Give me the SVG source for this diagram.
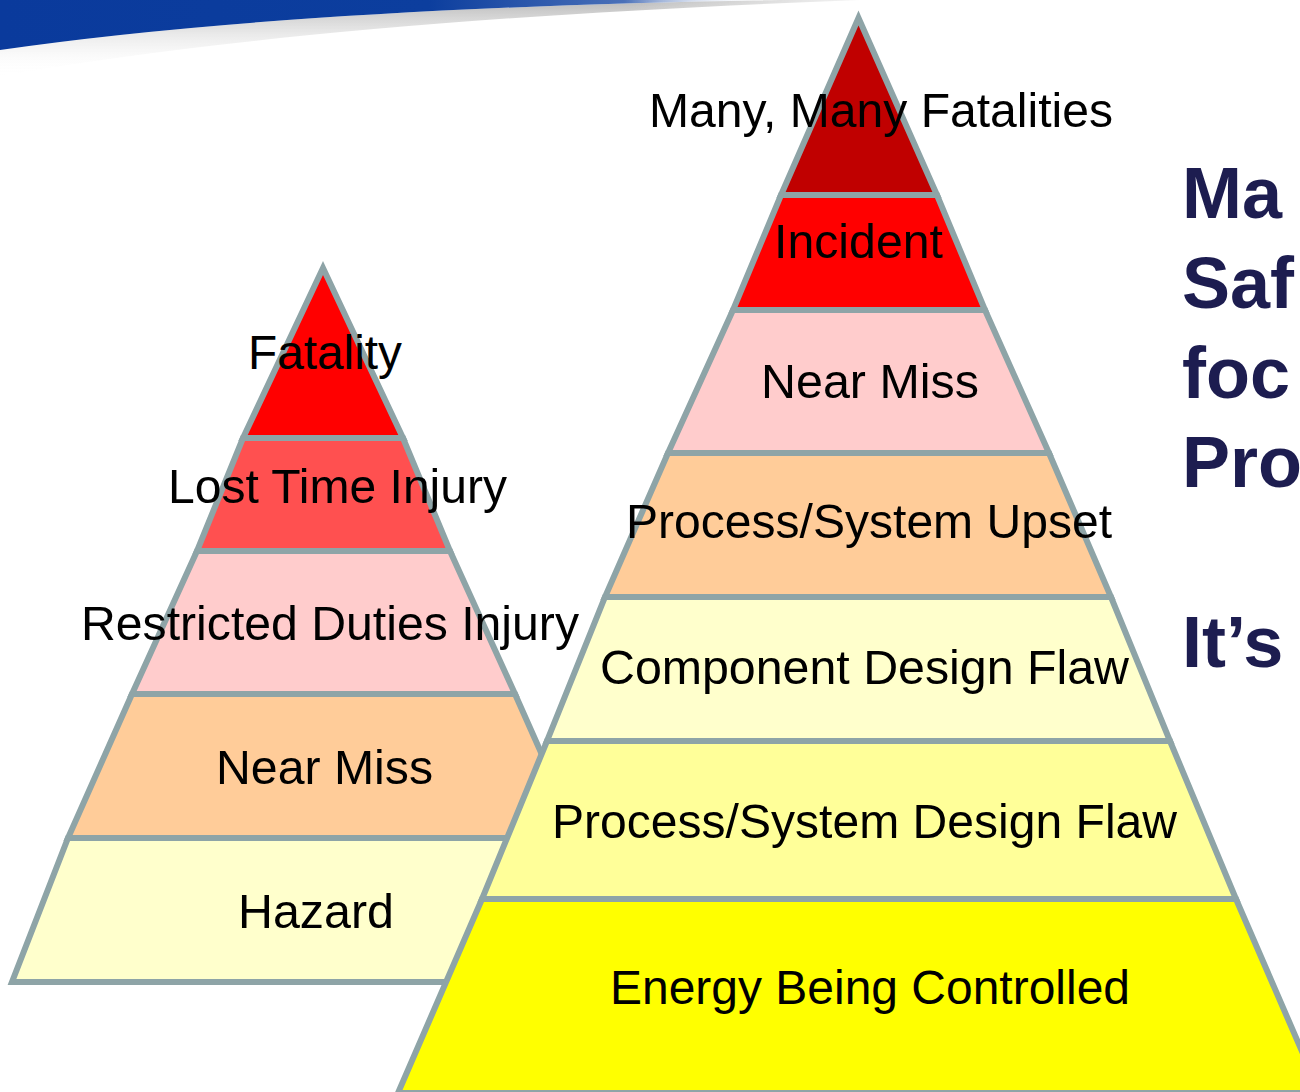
<svg xmlns="http://www.w3.org/2000/svg" width="1300" height="1092" viewBox="0 0 1300 1092">
<defs>
<linearGradient id="blueG" x1="0" y1="0" x2="1" y2="0">
<stop offset="0" stop-color="#0a3a9c"/>
<stop offset="0.55" stop-color="#0c3e9e"/>
<stop offset="0.8" stop-color="#4a70b8"/>
<stop offset="1" stop-color="#ffffff" stop-opacity="0"/>
</linearGradient>
<linearGradient id="shadowG" x1="0" y1="0" x2="0" y2="1">
<stop offset="0" stop-color="#9a9a9a" stop-opacity="0.7"/>
<stop offset="1" stop-color="#ffffff" stop-opacity="0"/>
</linearGradient>
<linearGradient id="shadowFade" x1="0" y1="0" x2="1" y2="0">
<stop offset="0" stop-color="#ffffff" stop-opacity="1"/>
<stop offset="0.7" stop-color="#ffffff" stop-opacity="1"/>
<stop offset="1" stop-color="#ffffff" stop-opacity="0"/>
</linearGradient>
<mask id="fadeMask"><rect x="0" y="0" width="900" height="100" fill="url(#shadowFade)"/></mask>
<style>
.band{stroke:#8ea4a7;stroke-width:6;stroke-linejoin:miter}
.lbl{font-family:"Liberation Sans",Arial,sans-serif;font-size:48px;fill:#000}
.side{font-family:"Liberation Sans",Arial,sans-serif;font-size:72px;font-weight:bold;fill:#1d1d50}
</style>
</defs>
<rect width="1300" height="1092" fill="#ffffff"/>
<g id="header" mask="url(#fadeMask)">
<path d="M0,50 Q290,8 780,0 L860,0 Q320,20 0,76 Z" fill="url(#shadowG)"/>
<path d="M0,0 L780,0 Q290,8 0,50 Z" fill="url(#blueG)"/>
</g>
<g id="small-pyramid">
<g id="s-hazard"><polygon class="band" fill="#ffffcc" points="68,838 579,838 635,982 12,982"/></g>
<g id="s-nearmiss"><polygon class="band" fill="#ffcc99" points="132,694 515,694 579,838 68,838"/></g>
<g id="s-restricted"><polygon class="band" fill="#ffcccc" points="197,551 450,551 515,694 132,694"/></g>
<g id="s-losttime"><polygon class="band" fill="#ff5050" points="243,438 403,438 450,551 197,551"/></g>
<g id="s-fatality"><polygon class="band" fill="#ff0000" points="323,268 403,438 243,438"/></g>
<text class="lbl" x="248" y="369" textLength="154" lengthAdjust="spacingAndGlyphs">Fatality</text>
<text class="lbl" x="168" y="503" textLength="339" lengthAdjust="spacingAndGlyphs">Lost Time Injury</text>
<text class="lbl" x="81" y="640" textLength="498" lengthAdjust="spacingAndGlyphs">Restricted Duties Injury</text>
<text class="lbl" x="216" y="784" textLength="217" lengthAdjust="spacingAndGlyphs">Near Miss</text>
<text class="lbl" x="238" y="928" textLength="156" lengthAdjust="spacingAndGlyphs">Hazard</text>
</g>
<g id="big-pyramid">
<g id="b-energy"><polygon class="band" fill="#ffff00" points="482,899 1236,899 1320,1093 398,1093"/></g>
<g id="b-psdesign"><polygon class="band" fill="#ffff99" points="547,741 1170,741 1236,899 482,899"/></g>
<g id="b-component"><polygon class="band" fill="#ffffcc" points="605,597 1111,597 1170,741 547,741"/></g>
<g id="b-upset"><polygon class="band" fill="#ffcc99" points="668,453 1049,453 1111,597 605,597"/></g>
<g id="b-nearmiss"><polygon class="band" fill="#ffcccc" points="733,310 985,310 1049,453 668,453"/></g>
<g id="b-incident"><polygon class="band" fill="#ff0000" points="781,195 937,195 985,310 733,310"/></g>
<g id="b-fatalities"><polygon class="band" fill="#c00000" points="858.5,18 937,195 781,195"/></g>
<text class="lbl" x="649" y="127" textLength="464" lengthAdjust="spacingAndGlyphs">Many, Many Fatalities</text>
<text class="lbl" x="774" y="258" textLength="169" lengthAdjust="spacingAndGlyphs">Incident</text>
<text class="lbl" x="761" y="398" textLength="218" lengthAdjust="spacingAndGlyphs">Near Miss</text>
<text class="lbl" x="626" y="538" textLength="486" lengthAdjust="spacingAndGlyphs">Process/System Upset</text>
<text class="lbl" x="600" y="684" textLength="529" lengthAdjust="spacingAndGlyphs">Component Design Flaw</text>
<text class="lbl" x="552" y="838" textLength="625" lengthAdjust="spacingAndGlyphs">Process/System Design Flaw</text>
<text class="lbl" x="610" y="1004" textLength="520" lengthAdjust="spacingAndGlyphs">Energy Being Controlled</text>
</g>
<g id="side-text">
<text class="side" x="1182" y="218">Ma</text>
<text class="side" x="1182" y="308">Saf</text>
<text class="side" x="1182" y="398">foc</text>
<text class="side" x="1182" y="487">Pro</text>
<text class="side" x="1182" y="667">It’s</text>
</g>
</svg>
